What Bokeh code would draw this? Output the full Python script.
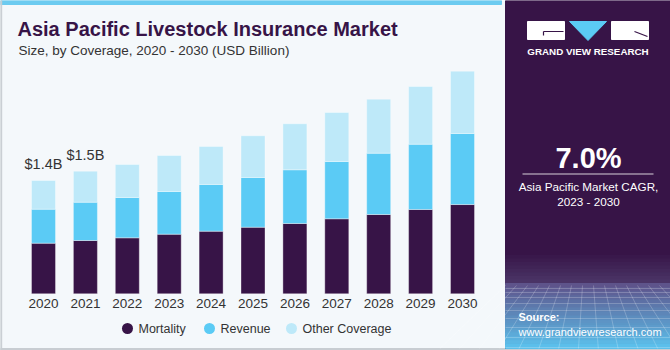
from bokeh.plotting import figure
from bokeh.models import Range1d, ColumnDataSource
from bokeh.core.properties import value
from bokeh.embed import file_html
from bokeh.resources import INLINE

# ---- data ----
years = ["2020", "2021", "2022", "2023", "2024", "2025", "2026", "2027", "2028", "2029", "2030"]
mortality = [0.625, 0.658, 0.691, 0.736, 0.773, 0.822, 0.868, 0.926, 0.979, 1.041, 1.102]
revenue = [0.420, 0.473, 0.498, 0.527, 0.577, 0.614, 0.663, 0.707, 0.757, 0.806, 0.877]
other = [0.354, 0.383, 0.407, 0.444, 0.469, 0.515, 0.568, 0.605, 0.667, 0.712, 0.769]
series = ["Mortality", "Revenue", "Other Coverage"]
value_labels = ["$1.4B", "$1.5B"]
title = "Asia Pacific Livestock Insurance Market"
subtitle = "Size, by Coverage, 2020 - 2030 (USD Billion)"
cagr = "7.0%"
cagr_text = ["Asia Pacific Market CAGR,", "2023 - 2030"]

# ---- styles ----
W, H = 670, 350
BG = "#F4F8FB"
PURPLE = "#371447"
BLUE = "#5BCBF5"
LIGHT = "#BEE9F9"
COLORS = [PURPLE, BLUE, LIGHT]
FONT = "Liberation Sans"

# pixel layout of the bar area
x0_px, step_px = 43.0, 41.9
base_px, px_per_b = 293.3, 81.0

p = figure(width=W, height=H, output_backend="svg", toolbar_location=None,
           x_range=Range1d(-x0_px / step_px, (W - x0_px) / step_px),
           y_range=Range1d(-(H - base_px) / px_per_b, base_px / px_per_b),
           x_axis_type=None, y_axis_type=None, min_border=0,
           background_fill_color=BG, border_fill_color=BG, outline_line_color=None)
p.extra_x_ranges = {"px": Range1d(0, W)}
p.extra_y_ranges = {"px": Range1d(H, 0)}
PX = dict(x_range_name="px", y_range_name="px")


def mix(c1, c2, t):
    a = [int(c1[i:i + 2], 16) for i in (1, 3, 5)]
    b = [int(c2[i:i + 2], 16) for i in (1, 3, 5)]
    return "#%02x%02x%02x" % tuple(int(round(x + (y - x) * t)) for x, y in zip(a, b))


# frame decorations
p.quad(left=[0], right=[501], top=[0], bottom=[4], color="#6CCBF0", **PX)
p.quad(left=[0], right=[1.2], top=[0], bottom=[350], color="#C8CDD2", **PX)
p.quad(left=[0], right=[670], top=[348], bottom=[350], color="#C8CDD2", **PX)

# ---- bars ----
idx = list(range(len(years)))
src = ColumnDataSource(dict(x=idx, Mortality=mortality, Revenue=revenue, Other=other,
                            total=[a + b + c for a, b, c in zip(mortality, revenue, other)],
                            year=years))
p.vbar_stack(["Mortality", "Revenue", "Other"], x="x", width=24 / step_px, source=src,
             fill_color=COLORS, line_color="#FFFFFF", line_alpha=0.35, line_width=1)

# year labels (x by data scale)
p.text(x="x", y=303, text="year", source=src, y_range_name="px",
       text_font=value(FONT), text_font_size="13.5px", text_color="#333333",
       text_align="center", text_baseline="middle")

# value labels on the first two bars
vsrc = ColumnDataSource(dict(x=idx[:2], y=src.data["total"][:2], t=value_labels))
p.text(x="x", y="y", text="t", source=vsrc, y_offset=-8,
       text_font=value(FONT), text_font_size="14.5px", text_color="#333333",
       text_align="center", text_baseline="bottom")

# title
p.text(x=[17], y=[28.5], text=[title], **PX, text_font=value(FONT), text_font_style="bold",
       text_font_size="20px", text_color=PURPLE, text_baseline="middle")
p.text(x=[18], y=[50], text=[subtitle], **PX, text_font=value(FONT),
       text_font_size="13.5px", text_color="#333333", text_baseline="middle")

# legend
leg_x = [127, 209, 291]
p.scatter(x=leg_x, y=[328] * 3, size=11, marker="circle", fill_color=COLORS,
          line_color=None, **PX)
p.text(x=[x + 11 for x in leg_x], y=[328] * 3, text=series, **PX,
       text_font=value(FONT), text_font_size="12.5px", text_color="#333333",
       text_baseline="middle")

# ---- right panel ----
p.quad(left=[505], right=[670], top=[0], bottom=[348], color=PURPLE, **PX)
n1, n2 = 8, 16
tops1 = [255 + 28 * i / n1 for i in range(n1)]
bots1 = [255 + 28 * (i + 1) / n1 for i in range(n1)]
cols1 = [mix(PURPLE, "#4A3466", (i + 1) / n1) for i in range(n1)]
tops2 = [283 + 65 * i / n2 for i in range(n2)]
bots2 = [283 + 65 * (i + 1) / n2 for i in range(n2)]
cols2 = [mix("#5E5088", "#5CC3EE", (i + 0.5) / n2) for i in range(n2)]
p.quad(left=[505] * (n1 + n2), right=[670] * (n1 + n2), top=tops1 + tops2,
       bottom=bots1 + bots2, color=cols1 + cols2, **PX)
# faint grid lines in the panel base
gx = [[505 + 11 * k, 587 + (11 * k - 82) * 1.8] for k in range(16)]
gy = [[285, 348] for _ in range(16)]
p.multi_line(xs=gx, ys=gy, line_color="white", line_alpha=0.22, line_width=1, **PX)
hy = [288, 292, 297, 303, 310, 318, 327, 337, 347]
p.multi_line(xs=[[505, 670]] * len(hy), ys=[[y, y] for y in hy],
             line_color="white", line_alpha=0.22, line_width=1, **PX)

# logo
p.quad(left=[527, 611], right=[564, 648], top=[21, 21], bottom=[39, 39], color="white", **PX)
p.patch(x=[569, 606, 587.5], y=[21, 21, 40], color=BLUE, **PX)
p.multi_line(xs=[[543, 563], [543, 543], [634, 647]], ys=[[31, 31], [31, 35], [31, 36]],
             line_color=PURPLE, line_width=1.2, **PX)
p.text(x=[587.5], y=[51], text=["GRAND VIEW RESEARCH"], **PX, text_font=value(FONT),
       text_font_style="bold", text_font_size="9.8px", text_color="white",
       text_align="center", text_baseline="middle")

p.text(x=[588], y=[157], text=[cagr], **PX, text_font=value(FONT), text_font_style="bold",
       text_font_size="29px", text_color="white", text_align="center", text_baseline="middle")
p.segment(x0=[522], x1=[653], y0=[173.5], y1=[173.5], line_color="white",
          line_alpha=0.8, line_width=1, **PX)
p.text(x=[588, 588], y=[186, 201], text=cagr_text, **PX, text_font=value(FONT),
       text_font_size="11.7px", text_color="white", text_align="center",
       text_baseline="middle")
p.text(x=[518, 518], y=[316, 331], text=["Source:", "www.grandviewresearch.com"], **PX,
       text_font=value(FONT), text_font_style=["bold", "normal"], text_font_size="11px",
       text_color="white", text_baseline="middle")

open("out.html", "w").write(file_html(p, INLINE))
